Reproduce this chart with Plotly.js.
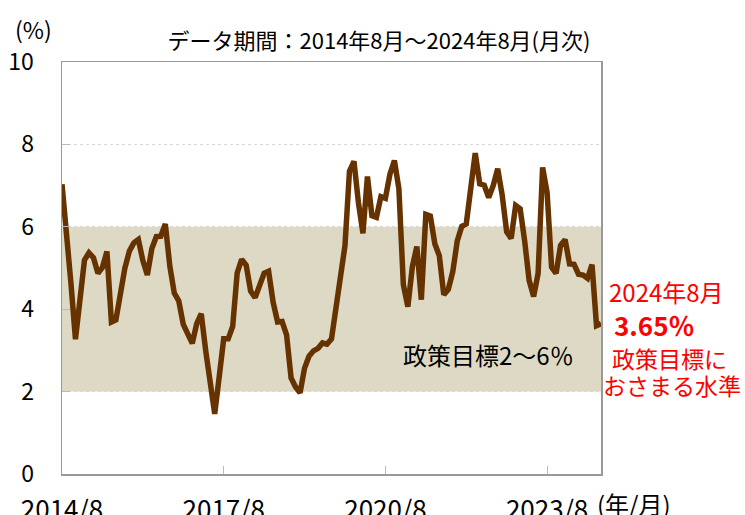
<!DOCTYPE html>
<html>
<head>
<meta charset="utf-8">
<script src="https://cdn.plot.ly/plotly-3.0.1.min.js"></script>
<style>html,body{margin:0;padding:0;background:#fff;}#chart{width:745px;height:515px;}</style>
</head>
<body>
<div id="chart"></div>
<script>
// Monthly data, 2014/8 - 2024/8 (%)
const startYear = 2014, startMonth = 8;
const inflation = [
  7.03, 5.63, 4.62, 3.27, 4.28,
  5.19, 5.37, 5.25, 4.87, 5.01, 5.40, 3.69, 3.74, 4.41, 5.00, 5.41, 5.61,
  5.69, 5.18, 4.83, 5.47, 5.76, 5.77, 6.07, 5.05, 4.39, 4.20, 3.63, 3.41,
  3.17, 3.65, 3.89, 2.99, 2.18, 1.46, 2.36, 3.28, 3.28, 3.58, 4.88, 5.21,
  5.07, 4.44, 4.28, 4.58, 4.87, 4.92, 4.17, 3.69, 3.70, 3.38, 2.33, 2.11,
  1.97, 2.57, 2.86, 2.99, 3.05, 3.18, 3.15, 3.28, 3.99, 4.62, 5.54, 7.35,
  7.59, 6.58, 5.84, 7.22, 6.27, 6.23, 6.73, 6.69, 7.27, 7.61, 6.93, 4.59,
  4.06, 5.03, 5.52, 4.23, 6.30, 6.26, 5.59, 5.30, 4.35, 4.48, 4.91, 5.66,
  6.01, 6.07, 6.95, 7.79, 7.04, 7.01, 6.71, 7.00, 7.41, 6.77, 5.88, 5.72,
  6.52, 6.44, 5.66, 4.70, 4.31, 4.87, 7.44, 6.83, 5.02, 4.87, 5.55, 5.69,
  5.10, 5.09, 4.85, 4.83, 4.75, 5.08, 3.60, 3.65
];
const tickLabels = ["2014/8", "2017/8", "2020/8", "2023/8"];
const yTicks = [0, 2, 4, 6, 8, 10];
const targetLow = 2, targetHigh = 6;

const months = [];
for (let i = 0; i < inflation.length; i++) {
  const m0 = startMonth - 1 + i;
  months.push((startYear + Math.floor(m0 / 12)) + "/" + (m0 % 12 + 1));
}

const font = "Noto Sans CJK JP, Noto Sans, sans-serif";
const L = 62, T = 62, W = 539, H = 412;
function px(x) { return (x - L) / W; }
function py(y) { return (T + H - y) / H; }

const trace = {
  x: months, y: inflation, type: "scatter", mode: "lines",
  line: {color: "#663300", width: 5.5, shape: "linear"},
  hoverinfo: "skip"
};

function ann(text, x, y, size, color) {
  return {text: text, xref: "paper", yref: "paper", x: px(x), y: py(y),
          xanchor: "center", yanchor: "middle", showarrow: false,
          font: {family: font, size: size, color: color || "#000"}};
}

const layout = {
  width: 745, height: 515,
  margin: {l: L, r: 745 - L - W, t: T, b: 515 - T - H},
  paper_bgcolor: "#fff", plot_bgcolor: "#fff",
  showlegend: false,
  font: {family: font, color: "#000", size: 20},
  title: {text: "データ期間：2014年8月～2024年8月(月次)", font: {family: font, size: 22, color: "#000"},
          x: 379/745, xref: "container", xanchor: "center", y: 1 - 41/515, yref: "container", yanchor: "middle"},
  xaxis: {
    type: "category", range: [0, months.length - 1],
    tickvals: tickLabels, ticktext: tickLabels,
    ticks: "inside", ticklen: 8, tickcolor: "#bbb", tickwidth: 1,
    showline: true, linecolor: "#999", linewidth: 1.5, mirror: true,
    showgrid: false, zeroline: false,
    tickfont: {family: font, size: 26, color: "#000"},
    ticklabelstandoff: 12
  },
  yaxis: {
    range: [0, 10], tickvals: yTicks,
    ticks: "inside", ticklen: 8, tickcolor: "#bbb", tickwidth: 1,
    showline: true, linecolor: "#999", linewidth: 1.5, mirror: true,
    showgrid: true, gridcolor: "#d8d8d8", griddash: "dot", gridwidth: 1,
    zeroline: false,
    tickfont: {family: font, size: 23, color: "#000"},
    ticklabelstandoff: 22
  },
  shapes: [{
    type: "rect", xref: "paper", yref: "y", x0: 0, x1: 1, y0: targetLow, y1: targetHigh,
    fillcolor: "#DDD9C4", line: {width: 0}, layer: "between"
  }],
  annotations: [
    ann("(%)", 33, 29, 23),
    ann("(年/月)", 634, 503, 24),
    ann("政策目標2～6％", 488, 354, 24),
    ann("2024年8月", 666, 291, 24, "#ff0000"),
    ann("<b>3.65％</b>", 654, 324, 26, "#ff0000"),
    ann("政策目標に", 669, 358, 23, "#ff0000"),
    ann("おさまる水準", 672, 385, 23, "#ff0000")
  ]
};

Plotly.newPlot("chart", [trace], layout, {staticPlot: true, displayModeBar: false});
</script>
</body>
</html>
